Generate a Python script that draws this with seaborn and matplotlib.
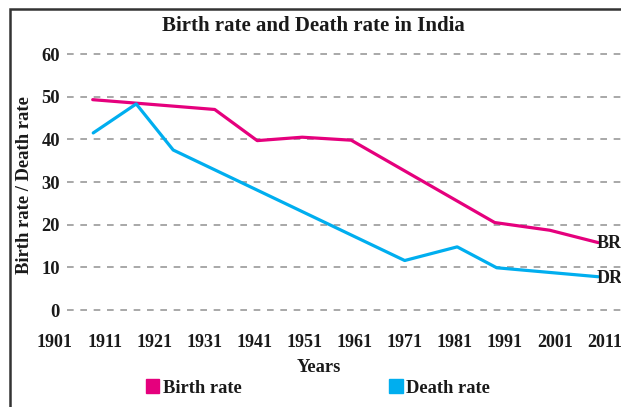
import matplotlib
matplotlib.use("Agg")
import matplotlib.pyplot as plt
from matplotlib.patches import Patch, Rectangle
import seaborn as sns

# values
tick_years = [1901, 1911, 1921, 1931, 1941, 1951, 1961, 1971, 1981, 1991, 2001, 2011]
rate_ticks = [0, 10, 20, 30, 40, 50, 60]

br_years = [1908.6, 1933.0, 1941.5, 1950.5, 1960.3, 1989.0, 2000.0, 2009.7]
br_values = [49.3, 47.0, 39.7, 40.5, 39.8, 20.5, 18.7, 15.8]

dr_years = [1908.7, 1917.3, 1924.7, 1971.0, 1981.5, 1989.4, 2009.7]
dr_values = [41.5, 48.3, 37.5, 11.6, 14.8, 9.9, 7.8]

br_color = "#e5007d"
dr_color = "#00aeef"
ink = "#1a1a1a"

sns.set_theme(style="white")
plt.rcParams["font.family"] = ["Liberation Serif", "DejaVu Serif"]
plt.rcParams["font.weight"] = "bold"

fig = plt.figure(figsize=(6.21, 4.07), dpi=100)
ax = fig.add_axes([0.072, 0.2383, 0.942, 0.629])

# dashed grid starting a bit right of the 1901 label, like the reference
ax.hlines(rate_ticks, 1903.5, 2016, colors="#9a9a9a", linestyles=(0, (4, 4)),
          linewidth=1.2, clip_on=False, zorder=1)

sns.lineplot(x=br_years, y=br_values, color=br_color, linewidth=2.3, ax=ax, zorder=3)
sns.lineplot(x=dr_years, y=dr_values, color=dr_color, linewidth=2.3, ax=ax, zorder=3)

ax.annotate("BR", (br_years[-1], br_values[-1]), xytext=(-1, -1), textcoords="offset points",
            ha="left", va="center", fontsize=13, fontweight="bold", color=ink,
            annotation_clip=False)
ax.annotate("DR", (dr_years[-1], dr_values[-1]), xytext=(-1, -1), textcoords="offset points",
            ha="left", va="center", fontsize=13, fontweight="bold", color=ink,
            annotation_clip=False)

ax.set_xlim(1899, 2016)
ax.set_ylim(0, 60)
ax.set_xticks(tick_years)
ax.set_yticks(rate_ticks)
ax.tick_params(axis="x", length=0, pad=17, labelsize=13, labelcolor=ink)
ax.tick_params(axis="y", length=0, pad=-11, labelsize=13.3, labelcolor=ink)
for lab in ax.get_xticklabels() + ax.get_yticklabels():
    lab.set_fontweight("bold")

for s in ax.spines.values():
    s.set_visible(False)
ax.set_facecolor("none")

ax.set_xlabel("Years", fontsize=13.3, fontweight="bold", color=ink)
ax.xaxis.set_label_coords(0.469, -0.19)
ax.set_ylabel("Birth rate / Death rate", fontsize=13.4, fontweight="bold", color=ink)
ax.yaxis.set_label_coords(-0.02, 0.49)

fig.text(313.5 / 621, 1 - 26 / 407, "Birth rate and Death rate in India",
         ha="center", va="center", fontsize=15, fontweight="bold", color=ink)

handles = [Patch(color=br_color, label="Birth rate"), Patch(color=dr_color, label="Death rate")]
leg = fig.legend(handles=handles, loc="center", bbox_to_anchor=(318 / 621, 1 - 388 / 407),
                 ncol=2, frameon=False, fontsize=13.3, handlelength=0.72, handleheight=0.72,
                 handletextpad=0.2, columnspacing=8.0)
for t in leg.get_texts():
    t.set_fontweight("bold")
    t.set_color(ink)

# figure frame, cut off at the right and bottom as in the reference
fig.patches.append(Rectangle((10 / 621, -0.1), 1.2, 1.1 - 9 / 407, transform=fig.transFigure,
                             fill=False, edgecolor="#333333", linewidth=1.8))

fig.savefig("out.png", dpi=100)
